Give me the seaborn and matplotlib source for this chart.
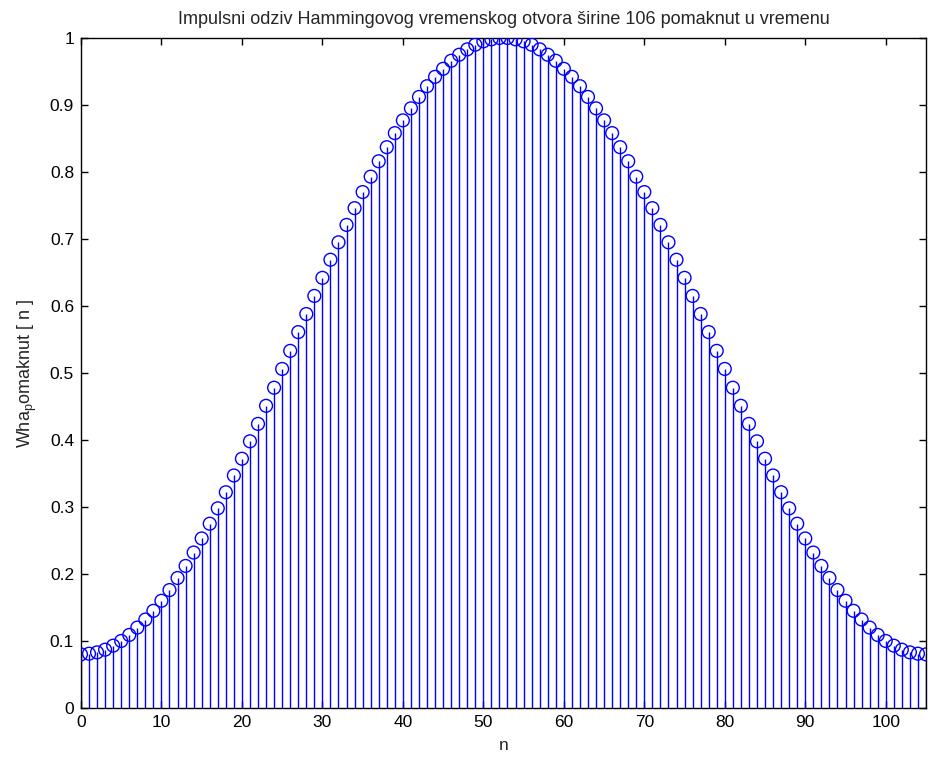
import matplotlib
matplotlib.use("Agg")
import matplotlib.pyplot as plt
import seaborn as sns
import pandas as pd

n_values = list(range(106))
w_values = [
    0.080, 0.081, 0.083, 0.087, 0.093, 0.100, 0.109, 0.120, 0.132, 0.145,
    0.160, 0.176, 0.194, 0.212, 0.232, 0.253, 0.275, 0.298, 0.322, 0.347,
    0.372, 0.398, 0.424, 0.451, 0.478, 0.506, 0.533, 0.561, 0.588, 0.615,
    0.642, 0.669, 0.695, 0.721, 0.746, 0.770, 0.793, 0.816, 0.837, 0.858,
    0.877, 0.895, 0.912, 0.928, 0.942, 0.954, 0.966, 0.975, 0.983, 0.990,
    0.995, 0.998, 1.000, 1.000, 0.998, 0.995, 0.990, 0.983, 0.975, 0.966,
    0.954, 0.942, 0.928, 0.912, 0.895, 0.877, 0.858, 0.837, 0.816, 0.793,
    0.770, 0.746, 0.721, 0.695, 0.669, 0.642, 0.615, 0.588, 0.561, 0.533,
    0.506, 0.478, 0.451, 0.424, 0.398, 0.372, 0.347, 0.322, 0.298, 0.275,
    0.253, 0.232, 0.212, 0.194, 0.176, 0.160, 0.145, 0.132, 0.120, 0.109,
    0.100, 0.093, 0.087, 0.083, 0.081, 0.080,
]
x_ticks = [0, 10, 20, 30, 40, 50, 60, 70, 80, 90, 100]
y_ticks = [0, 0.1, 0.2, 0.3, 0.4, 0.5, 0.6, 0.7, 0.8, 0.9, 1]
y_tick_labels = ["0", "0.1", "0.2", "0.3", "0.4", "0.5", "0.6", "0.7", "0.8", "0.9", "1"]

df = pd.DataFrame({"n": n_values, "w": w_values})

sns.set_style("white")
plt.rcParams["font.family"] = ["Liberation Sans", "DejaVu Sans"]
plt.rcParams["mathtext.fontset"] = "custom"
plt.rcParams["mathtext.rm"] = "Liberation Sans"

fig = plt.figure(figsize=(9.36, 7.58), dpi=100)
ax = fig.add_axes([0.0865, 0.066, 0.9028, 0.8839])

ax.vlines(df["n"], 0, df["w"], colors="#0000ff", linewidth=1.0, zorder=2)
sns.scatterplot(data=df, x="n", y="w", ax=ax, marker="o", s=85,
                facecolors="none", edgecolor="#0000ff", linewidth=1.0, zorder=3)

ax.set_xlim(0, 105)
ax.set_ylim(0, 1)
ax.set_xticks(x_ticks)
ax.set_yticks(y_ticks)
ax.set_yticklabels(y_tick_labels)
ax.tick_params(direction="in", length=5, width=1, labelsize=12.5, colors="black",
               top=True, right=True, bottom=True, left=True, pad=5)
for sp in ax.spines.values():
    sp.set_visible(True)
    sp.set_color("black")
    sp.set_linewidth(1.0)

ax.set_xlabel("n", fontsize=12.5, labelpad=6)
ax.set_ylabel(r"Wha$_{\mathrm{p}}$omaknut [ n ]", fontsize=13, labelpad=8)
ax.set_title("Impulsni odziv Hammingovog vremenskog otvora širine 106 pomaknut u vremenu",
             fontsize=13, pad=10)

fig.savefig("out.png", dpi=100, facecolor="white")
